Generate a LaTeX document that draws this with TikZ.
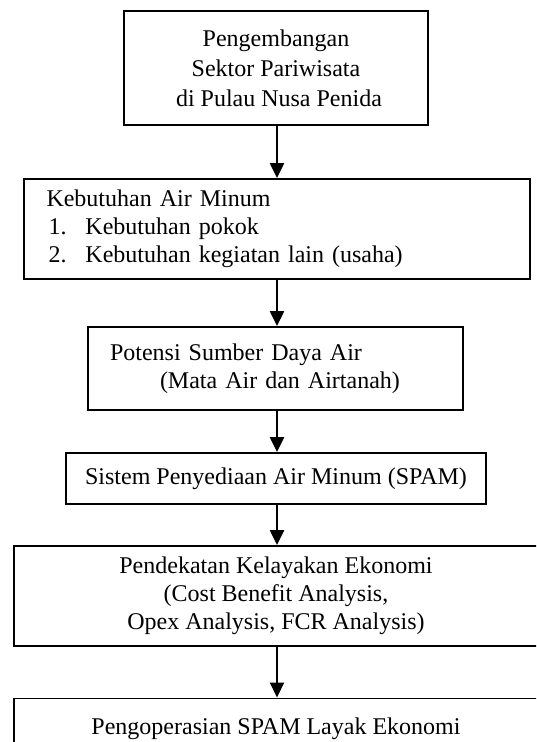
\documentclass[tikz,border=0pt]{standalone}
\usepackage{fontspec}
\setmainfont{Liberation Serif}
\usetikzlibrary{arrows.meta}

\tikzset{
  box/.style={rectangle, draw, line width=1.8pt, inner sep=0pt,
    font=\fontsize{24}{28}\selectfont},
  flow/.style={line width=2.2pt, -{Triangle[length=15pt, width=14pt]}}
}

\begin{document}
\begin{tikzpicture}[x=1pt, y=-1pt]

      \clip (0,0) rectangle (536,742);

      % boxes, top to bottom
      \node[box, minimum height=114pt, minimum width=304pt, align=center,
            font=\fontsize{24}{30}\selectfont] at (276, 68) (dev)
        {Pengembangan\\Sektor Pariwisata\\\ di Pulau Nusa Penida};

      \node[box, minimum height=100pt, minimum width=506pt, align=left, text width=461pt] at (277, 229) (need)
        {Kebutuhan Air Minum\\
         \hspace*{2pt}\makebox[37pt][l]{1.}Kebutuhan pokok\\
         \hspace*{2pt}\makebox[37pt][l]{2.}Kebutuhan kegiatan lain (usaha)};

      \node[box, minimum height=83pt, minimum width=375pt, align=left, text width=331pt] at (275.5, 368.5) (src)
        {Potensi Sumber Daya Air\\
         \hspace*{50pt}(Mata Air dan Airtanah)};

      \node[box, minimum height=51pt, minimum width=420pt] at (276, 478.5) (spam)
        {Sistem Penyediaan Air Minum (SPAM)};

      \node[box, minimum height=100pt, minimum width=524pt, align=center] at (276, 596) (econ)
        {Pendekatan Kelayakan Ekonomi\\(Cost Benefit Analysis,\\Opex Analysis, FCR Analysis)};

      \node[box, minimum height=60pt, minimum width=524pt, anchor=north] at (276, 697.5) (ops)
        {Pengoperasian SPAM Layak Ekonomi};

      % arrows
      \draw[flow] (dev.south -| 277,0) to (need.north -| 277,0);
      \draw[flow] (need.south -| 277,0) to (src.north -| 277,0);
      \draw[flow] (src.south -| 277,0) to (spam.north -| 277,0);
      \draw[flow] (spam.south -| 277,0) to (econ.north -| 277,0);
      \draw[flow] (econ.south -| 277,0) to (ops.north -| 277,0);
    \end{tikzpicture}
\end{document}
